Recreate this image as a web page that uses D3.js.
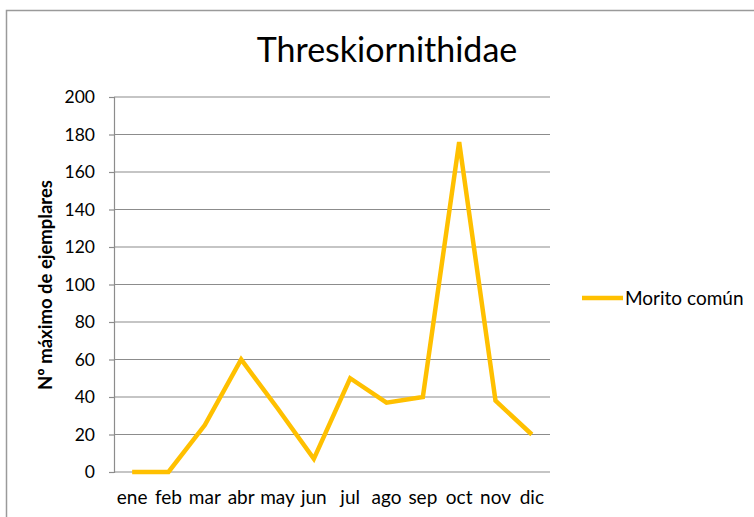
<!DOCTYPE html>
<html>
<head>
<meta charset="utf-8">
<script src="https://cdn.jsdelivr.net/npm/d3@7"></script>
<style>
  body { margin: 0; background: #fff; }
  svg { display: block; font-family: Lato, "Open Sans", sans-serif; }
</style>
</head>
<body>
<svg id="chart" width="754" height="517"></svg>
<script>
// data
const months = ["ene", "feb", "mar", "abr", "may", "jun", "jul", "ago", "sep", "oct", "nov", "dic"];
const morito = [0, 0, 25, 60, 34, 7, 50, 37, 40, 176, 38, 20];
const yTicks = [0, 20, 40, 60, 80, 100, 120, 140, 160, 180, 200];
const seriesName = "Morito común";
const title = "Threskiornithidae";
const yTitle = "Nº máximo de ejemplares";

const svg = d3.select("#chart");
const plot = {left: 114, right: 550, top: 97, bottom: 472};

// chart frame (runs off the right / bottom edge like the original)
svg.append("rect")
  .attr("x", 6.5).attr("y", 10.5)
  .attr("width", 800).attr("height", 600)
  .attr("fill", "none")
  .attr("stroke", "#9a9a9a")
  .attr("stroke-width", 1.5);

const x = d3.scaleBand()
  .domain(months)
  .range([plot.left, plot.right]);

const y = d3.scaleLinear()
  .domain([0, 200])
  .range([plot.bottom, plot.top]);

// gridlines
svg.append("g")
  .selectAll("line")
  .data(yTicks).enter()
  .append("line")
  .attr("x1", plot.left).attr("x2", plot.right)
  .attr("y1", d => y(d)).attr("y2", d => y(d))
  .attr("stroke", "#8c8c8c")
  .attr("stroke-width", 1.2);

// y axis
const yAxis = svg.append("g")
  .attr("transform", `translate(${plot.left},0)`)
  .call(d3.axisLeft(y).tickValues(yTicks).tickSize(5).tickPadding(14));
yAxis.select(".domain").attr("stroke", "#8c8c8c").attr("stroke-width", 1.2);
yAxis.selectAll(".tick line").attr("stroke", "#8c8c8c").attr("stroke-width", 1.2);
yAxis.selectAll(".tick text")
  .attr("font-family", "Lato, sans-serif")
  .attr("font-size", 17.5)
  .attr("fill", "#000");

// x axis labels
const xAxis = svg.append("g")
  .attr("transform", `translate(0,${plot.bottom})`)
  .call(d3.axisBottom(x).tickSize(0).tickPadding(19));
xAxis.select(".domain").remove();
xAxis.selectAll(".tick text")
  .attr("font-family", "Lato, sans-serif")
  .attr("font-size", 19)
  .attr("fill", "#000");

// series line
const line = d3.line()
  .x((d, i) => x(months[i]) + x.bandwidth() / 2)
  .y(d => y(d));

svg.append("path")
  .datum(morito)
  .attr("d", line)
  .attr("fill", "none")
  .attr("stroke", "#FFC000")
  .attr("stroke-width", 4.5)
  .attr("stroke-linejoin", "miter");

// title
svg.append("text")
  .attr("x", 387).attr("y", 62)
  .attr("text-anchor", "middle")
  .attr("font-size", 34)
  .attr("fill", "#000")
  .text(title);

// y axis title
svg.append("text")
  .attr("transform", `translate(52,${(175 + 395) / 2}) rotate(-90)`)
  .attr("text-anchor", "middle")
  .attr("font-size", 18.5)
  .attr("font-weight", "bold")
  .attr("fill", "#000")
  .text(yTitle);

// legend
const legend = svg.append("g").attr("transform", "translate(582,298)");
legend.append("line")
  .attr("x1", 0).attr("x2", 41)
  .attr("stroke", "#FFC000")
  .attr("stroke-width", 4.5);
legend.append("text")
  .attr("x", 43).attr("y", 6.5)
  .attr("font-size", 19)
  .attr("fill", "#000")
  .text(seriesName);
</script>
</body>
</html>
